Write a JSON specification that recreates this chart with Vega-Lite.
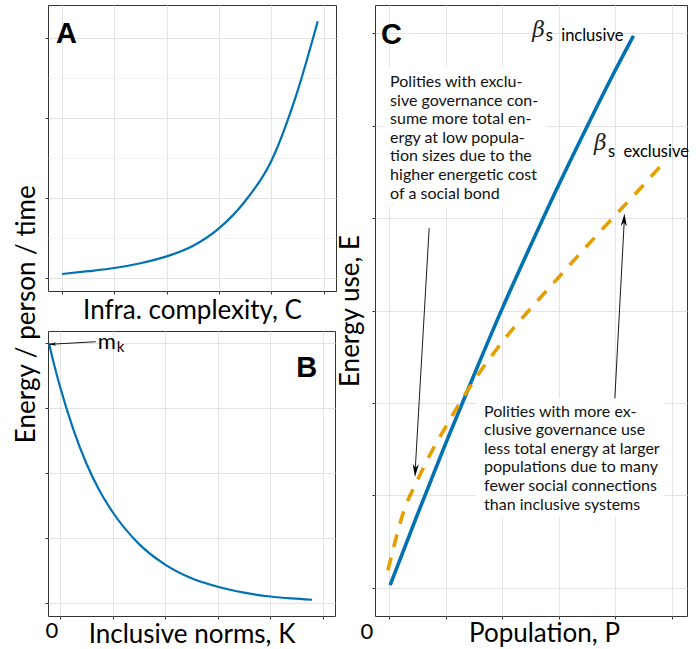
{
"$schema": "https://vega.github.io/schema/vega-lite/v6.json",
"background": "white",
"padding": {"left": 13, "top": 4, "right": 0, "bottom": 0},
"config": {
  "font": "Lato",
  "view": {"stroke": "#333333", "strokeWidth": 1},
  "axis": {"labels": false, "domain": false, "tickColor": "#333333", "tickSize": 3, "tickWidth": 1, "titleFont": "Lato", "titleFontSize": 26, "titleFontWeight": "normal", "titleColor": "#000000"}
},
"spacing": 0,
"hconcat": [
 {
  "title": {"text": "Energy / person / time", "orient": "left", "anchor": "middle", "fontSize": 26, "font": "Lato", "fontWeight": "normal", "color": "#000000", "offset": 4, "dx": 12},
  "spacing": 6,
  "vconcat": [
   {
    "width": 288, "height": 286,
    "layer": [
     {"data": {"values": [
        {"x": 0, "y": 0.05}, {"x": 0.5, "y": 0.085}, {"x": 1, "y": 0.125}, {"x": 1.5, "y": 0.185},
        {"x": 2, "y": 0.27}, {"x": 2.5, "y": 0.40}, {"x": 3, "y": 0.62}, {"x": 3.5, "y": 0.96},
        {"x": 4, "y": 1.46}, {"x": 4.5, "y": 2.33}, {"x": 4.89, "y": 3.21}]},
      "mark": {"type": "line", "color": "#0072B2", "strokeWidth": 2.2, "interpolate": "monotone"},
      "encoding": {
        "x": {"field": "x", "type": "quantitative", "scale": {"domain": [-0.268, 5.239], "nice": false, "zero": false},
              "axis": {"values": [0,0.5,1,1.5,2,2.5,3,3.5,4,4.5,5], "title": "Infra. complexity, C", "titlePadding": 3,
                       "tickOpacity": {"condition": {"test": "datum.value % 1 === 0", "value": 1}, "value": 0},
                       "gridColor": {"condition": {"test": "datum.value % 1 === 0", "value": "#e3e3e3"}, "value": "#eeeeee"},
                       "gridWidth": {"condition": {"test": "datum.value % 1 === 0", "value": 1}, "value": 0.7}}},
        "y": {"field": "y", "type": "quantitative", "scale": {"domain": [-0.1625, 3.4125], "nice": false, "zero": false},
              "axis": {"values": [0,0.5,1,1.5,2,2.5,3], "title": null,
                       "tickOpacity": {"condition": {"test": "datum.value % 1 === 0", "value": 1}, "value": 0},
                       "gridColor": {"condition": {"test": "datum.value % 1 === 0", "value": "#e3e3e3"}, "value": "#eeeeee"},
                       "gridWidth": {"condition": {"test": "datum.value % 1 === 0", "value": 1}, "value": 0.7}}}}},
     {"data": {"values": [{"x": -0.115, "y": 3.05, "t": "A"}]},
      "mark": {"type": "text", "font": "Liberation Sans", "fontSize": 29, "fontWeight": "bold", "align": "left", "baseline": "middle", "color": "#000000"},
      "encoding": {"x": {"field": "x", "type": "quantitative"}, "y": {"field": "y", "type": "quantitative"}, "text": {"field": "t"}}}
    ]
   },
   {
    "width": 287, "height": 285,
    "layer": [
     {"data": {"values": [
        {"x": -0.21, "y": 4.0}, {"x": -0.1, "y": 3.63}, {"x": 0, "y": 3.33}, {"x": 0.25, "y": 2.68},
        {"x": 0.5, "y": 2.15}, {"x": 0.75, "y": 1.73}, {"x": 1.0, "y": 1.40}, {"x": 1.5, "y": 0.91},
        {"x": 2.0, "y": 0.59}, {"x": 2.5, "y": 0.38}, {"x": 3.0, "y": 0.25}, {"x": 3.5, "y": 0.16},
        {"x": 4.0, "y": 0.10}, {"x": 4.4, "y": 0.07}, {"x": 4.79, "y": 0.05}]},
      "mark": {"type": "line", "color": "#0072B2", "strokeWidth": 2.2, "interpolate": "monotone"},
      "encoding": {
        "x": {"field": "x", "type": "quantitative", "scale": {"domain": [-0.228, 5.228], "nice": false, "zero": false},
              "axis": {"values": [0,0.5,1,1.5,2,2.5,3,3.5,4,4.5,5], "title": "Inclusive norms, K", "titlePadding": 2,
                       "tickOpacity": {"condition": {"test": "datum.value % 1 === 0", "value": 1}, "value": 0},
                       "gridColor": {"condition": {"test": "datum.value % 1 === 0", "value": "#e3e3e3"}, "value": "#eeeeee"},
                       "gridWidth": {"condition": {"test": "datum.value % 1 === 0", "value": 1}, "value": 0.7}}},
        "y": {"field": "y", "type": "quantitative", "scale": {"domain": [-0.2, 4.185], "nice": false, "zero": false},
              "axis": {"values": [0,0.5,1,1.5,2,2.5,3,3.5,4], "title": null,
                       "tickOpacity": {"condition": {"test": "datum.value % 1 === 0", "value": 1}, "value": 0},
                       "gridColor": {"condition": {"test": "datum.value % 1 === 0", "value": "#e3e3e3"}, "value": "#eeeeee"},
                       "gridWidth": {"condition": {"test": "datum.value % 1 === 0", "value": 1}, "value": 0.7}}}}},
     {"mark": {"type": "rule", "color": "#000000", "strokeWidth": 1, "strokeDash": [4, 3]},
      "encoding": {"y": {"datum": 0}}},
     {"data": {"values": [{"x": 0.68, "y": 4.02, "x2": -0.2, "y2": 3.98}]},
      "mark": {"type": "rule", "color": "#000000", "strokeWidth": 0.9},
      "encoding": {"x": {"field": "x", "type": "quantitative"}, "y": {"field": "y", "type": "quantitative"}, "x2": {"field": "x2"}, "y2": {"field": "y2"}}},
     {"data": {"values": [{"x": -0.21, "y": 3.98}]},
      "mark": {"type": "point", "shape": "M0,0L-0.5,-2.1L0,-1.5L0.5,-2.1Z", "filled": true, "color": "#000000", "opacity": 1, "size": 50, "angle": 87.5},
      "encoding": {"x": {"field": "x", "type": "quantitative"}, "y": {"field": "y", "type": "quantitative"}}},
     {"data": {"values": [{"x": 0.72, "y": 3.91, "t": "m"}]},
      "mark": {"type": "text", "fontSize": 22, "align": "left", "baseline": "alphabetic", "color": "#000000"},
      "encoding": {"x": {"field": "x", "type": "quantitative"}, "y": {"field": "y", "type": "quantitative"}, "text": {"field": "t"}}},
     {"data": {"values": [{"x": 1.08, "y": 3.86, "t": "k"}]},
      "mark": {"type": "text", "fontSize": 15, "align": "left", "baseline": "alphabetic", "color": "#000000"},
      "encoding": {"x": {"field": "x", "type": "quantitative"}, "y": {"field": "y", "type": "quantitative"}, "text": {"field": "t"}}},
     {"data": {"values": [{"x": 4.89, "y": 3.62, "t": "B"}]},
      "mark": {"type": "text", "font": "Liberation Sans", "fontSize": 29, "fontWeight": "bold", "align": "right", "baseline": "middle", "color": "#000000"},
      "encoding": {"x": {"field": "x", "type": "quantitative"}, "y": {"field": "y", "type": "quantitative"}, "text": {"field": "t"}}},
     {"data": {"values": [{"x": -0.152, "y": -0.43, "t": "0"}]},
      "mark": {"type": "text", "fontSize": 22, "align": "center", "baseline": "middle", "color": "#000000"},
      "encoding": {"x": {"field": "x", "type": "quantitative"}, "y": {"field": "y", "type": "quantitative"}, "text": {"field": "t"}}}
    ]
   }
  ]
 },
 {
  "width": 312, "height": 611,
  "layer": [
   {"data": {"values": [{"x": -0.12, "x2": 2.79, "y": 4.12, "y2": 5.63}, {"x": 1.53, "x2": 4.85, "y": 0.77, "y2": 2.05}]},
    "mark": {"type": "rect", "color": "#ffffff"},
    "encoding": {
      "x": {"field": "x", "type": "quantitative", "scale": {"domain": [-0.247, 5.265], "nice": false, "zero": false},
            "axis": {"values": [0,0.5,1,1.5,2,2.5,3,3.5,4,4.5,5], "title": "Population, P", "titlePadding": 1, "titleX": 169, "titleAlign": "center",
                     "tickOpacity": {"condition": {"test": "datum.value % 1 === 0", "value": 1}, "value": 0},
                     "gridColor": {"condition": {"test": "datum.value % 1 === 0", "value": "#e3e3e3"}, "value": "#eeeeee"},
                     "gridWidth": {"condition": {"test": "datum.value % 1 === 0", "value": 1}, "value": 0.7}}},
      "y": {"field": "y", "type": "quantitative", "scale": {"domain": [-0.303, 6.303], "nice": false, "zero": false},
            "axis": {"values": [0,1,2,3,4,5,6], "title": "Energy use, E", "titlePadding": 8, "gridColor": "#e3e3e3", "gridWidth": 1}},
      "x2": {"field": "x2"}, "y2": {"field": "y2"}}},
   {"data": {"values": [
      {"x": 0.02, "y": 0.03}, {"x": 0.5, "y": 0.79}, {"x": 1.0, "y": 1.56}, {"x": 1.5, "y": 2.30},
      {"x": 2.0, "y": 3.02}, {"x": 2.5, "y": 3.70}, {"x": 3.0, "y": 4.36}, {"x": 3.5, "y": 4.99},
      {"x": 4.0, "y": 5.60}, {"x": 4.32, "y": 5.97}]},
    "mark": {"type": "line", "color": "#0072B2", "strokeWidth": 3.6, "interpolate": "monotone"},
    "encoding": {"x": {"field": "x", "type": "quantitative"}, "y": {"field": "y", "type": "quantitative"}}},
   {"data": {"values": [
      {"x": -0.02, "y": 0.19}, {"x": 0.1, "y": 0.48}, {"x": 0.25, "y": 0.81}, {"x": 0.5, "y": 1.16},
      {"x": 0.75, "y": 1.47}, {"x": 1.0, "y": 1.74}, {"x": 1.3, "y": 2.05}, {"x": 1.6, "y": 2.33},
      {"x": 1.9, "y": 2.58}, {"x": 2.2, "y": 2.81}, {"x": 2.5, "y": 3.02}, {"x": 3.0, "y": 3.36},
      {"x": 3.5, "y": 3.70}, {"x": 4.0, "y": 4.03}, {"x": 4.5, "y": 4.36}, {"x": 4.9, "y": 4.63}]},
    "mark": {"type": "line", "color": "#E69F00", "strokeWidth": 3.6, "strokeDash": [13, 11], "interpolate": "monotone"},
    "encoding": {"x": {"field": "x", "type": "quantitative"}, "y": {"field": "y", "type": "quantitative"}}},
   {"data": {"values": [{"x": 0.71, "y": 3.89, "x2": 0.46, "y2": 1.24}, {"x": 3.99, "y": 2.05, "x2": 4.16, "y2": 4.01}]},
    "mark": {"type": "rule", "color": "#000000", "strokeWidth": 0.9},
    "encoding": {"x": {"field": "x", "type": "quantitative"}, "y": {"field": "y", "type": "quantitative"}, "x2": {"field": "x2"}, "y2": {"field": "y2"}}},
   {"data": {"values": [{"x": 0.46, "y": 1.20}]},
    "mark": {"type": "point", "shape": "M0,0L-0.5,-2.1L0,-1.5L0.5,-2.1Z", "filled": true, "color": "#000000", "opacity": 1, "size": 150, "angle": 3.2},
    "encoding": {"x": {"field": "x", "type": "quantitative"}, "y": {"field": "y", "type": "quantitative"}}},
   {"data": {"values": [{"x": 4.16, "y": 4.05}]},
    "mark": {"type": "point", "shape": "M0,0L-0.5,-2.1L0,-1.5L0.5,-2.1Z", "filled": true, "color": "#000000", "opacity": 1, "size": 150, "angle": 183.1},
    "encoding": {"x": {"field": "x", "type": "quantitative"}, "y": {"field": "y", "type": "quantitative"}}},
   {"data": {"values": [
      {"x": 0.02, "y": 5.47, "t": "Polities with exclu-\nsive governance con-\nsume more total en-\nergy at low popula-\ntion sizes due to the\nhigher energetic cost\nof a social bond"},
      {"x": 1.68, "y": 1.906, "t": "Polities with more ex-\nclusive governance use\nless total energy at larger\npopulations due to many\nfewer social connections\nthan inclusive systems"}]},
    "mark": {"type": "text", "fontSize": 16, "lineHeight": 18.6, "lineBreak": "\n", "align": "left", "baseline": "middle", "color": "#111111"},
    "encoding": {"x": {"field": "x", "type": "quantitative"}, "y": {"field": "y", "type": "quantitative"}, "text": {"field": "t"}}},
   {"data": {"values": [{"x": -0.14, "y": 5.98, "t": "C"}]},
    "mark": {"type": "text", "font": "Liberation Sans", "fontSize": 29, "fontWeight": "bold", "align": "left", "baseline": "middle", "color": "#000000"},
    "encoding": {"x": {"field": "x", "type": "quantitative"}, "y": {"field": "y", "type": "quantitative"}, "text": {"field": "t"}}},
   {"data": {"values": [{"x": 2.53, "y": 5.96, "t": "β"}, {"x": 3.62, "y": 4.735, "t": "β"}]},
    "mark": {"type": "text", "font": "DejaVu Serif", "fontStyle": "italic", "fontSize": 22, "align": "left", "baseline": "alphabetic", "color": "#222222"},
    "encoding": {"x": {"field": "x", "type": "quantitative"}, "y": {"field": "y", "type": "quantitative"}, "text": {"field": "t"}}},
   {"data": {"values": [{"x": 2.77, "y": 5.91, "t": "s\u2002inclusive"}, {"x": 3.87, "y": 4.66, "t": "s\u2002exclusive"}]},
    "mark": {"type": "text", "fontSize": 16.5, "align": "left", "baseline": "alphabetic", "color": "#000000"},
    "encoding": {"x": {"field": "x", "type": "quantitative"}, "y": {"field": "y", "type": "quantitative"}, "text": {"field": "t"}}},
   {"data": {"values": [{"x": -0.389, "y": -0.476, "t": "0"}]},
    "mark": {"type": "text", "fontSize": 22, "align": "center", "baseline": "middle", "color": "#000000"},
    "encoding": {"x": {"field": "x", "type": "quantitative"}, "y": {"field": "y", "type": "quantitative"}, "text": {"field": "t"}}}
  ]
 }
]
}
